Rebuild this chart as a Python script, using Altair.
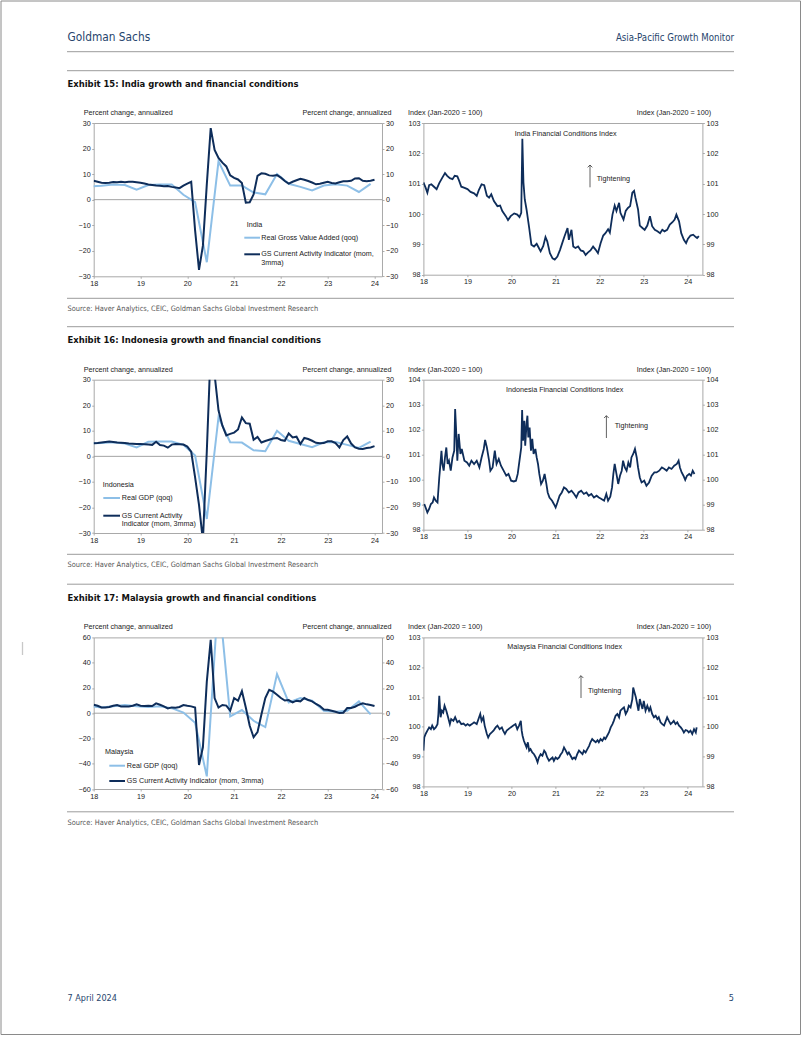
import altair as alt
import pandas as pd

# ------------------------------------------------------------------ data
YEARS = [2018, 2019, 2020, 2021, 2022, 2023, 2024]

# monthly, Jan-2018 .. Jan-2024 (GS Current Activity Indicator, mom 3mma)
india_cai = [7.4, 7.0, 6.6, 6.5, 6.6, 6.9, 6.8, 7.0, 6.8, 7.0, 7.0, 6.8,
             6.6, 6.3, 5.9, 5.7, 5.5, 5.4, 5.2, 5.3, 5.0, 4.8, 4.5, 5.5,
             6.3, 7.0, -12.0, -27.5, -18.0, 6.0, 28.0, 19.5, 16.3, 14.5, 13.0, 9.5,
             8.5, 7.9, 6.5, -1.2, -1.0, 2.0, 9.3, 10.3, 10.1, 9.5, 9.4, 9.6,
             8.6, 7.3, 6.3, 7.0, 7.6, 8.2, 7.8, 7.3, 6.7, 6.0, 6.2, 6.6,
             7.0, 6.5, 6.3, 6.8, 7.2, 7.2, 7.4, 8.3, 8.4, 7.4, 7.2, 7.4,
             7.8]
indo_cai = [5.1, 5.2, 5.4, 5.6, 5.8, 5.6, 5.4, 5.3, 5.2, 5.0, 4.9, 4.8,
            4.8, 4.7, 4.6, 4.5, 5.7, 4.4, 4.2, 3.4, 4.6, 4.8, 4.7, 4.6,
            3.8, 1.8, -8.2, -19.0, -33.0, 2.0, 42.0, 32.0, 18.0, 12.0, 8.2, 8.8,
            9.3, 10.5, 15.2, 13.0, 12.8, 6.5, 7.6, 5.4, 6.0, 6.5, 7.0, 7.2,
            6.4, 6.1, 9.0, 7.4, 7.7, 4.8, 7.2, 6.8, 6.1, 5.3, 5.1, 5.2,
            5.9, 5.9, 5.2, 3.5, 6.4, 7.8, 5.0, 3.5, 3.0, 2.9, 3.3, 3.5,
            4.0]
my_cai = [6.7, 5.9, 4.6, 4.6, 4.9, 5.9, 6.5, 5.4, 5.4, 5.4, 5.9, 7.0,
          5.9, 5.7, 5.9, 5.7, 7.8, 6.7, 5.4, 3.8, 4.6, 4.4, 4.9, 6.5,
          5.9, 5.4, 4.5, -41.0, -27.0, 25.0, 58.0, 12.0, 4.5, 6.5, 6.0, 2.0,
          12.0, 9.8, 17.5, 4.5, -10.0, -19.0, -15.0, -1.0, 12.0, 18.5, 17.0, 14.6,
          12.0, 10.0, 10.4, 8.6, 9.9, 9.4, 12.0, 10.4, 9.4, 7.3, 5.7, 3.0,
          2.8, 2.0, 1.2, 0.1, 0.4, 4.1, 4.1, 5.1, 6.7, 7.8, 7.0, 6.5,
          5.7]

# quarterly, Q4-2017 .. Q4-2023 (qoq annualized), plotted at quarter-end month
india_gva = [5.2, 5.4, 5.9, 5.7, 3.9, 5.7, 5.9, 5.9, 1.9, -1.0, -24.5, 15.0, 5.5,
             5.5, 2.8, 2.1, 10.0, 6.2, 5.0, 3.6, 5.5, 6.0, 5.5, 3.0, 6.2]
indo_gdp = [5.1, 5.2, 5.5, 5.0, 3.5, 5.7, 5.8, 5.8, 4.5, 0.3, -24.5, 15.3, 5.5,
            5.4, 2.4, 2.0, 10.0, 6.1, 4.8, 3.6, 5.5, 5.6, 4.5, 3.3, 5.8]
my_gdp = [5.5, 4.5, 5.5, 6.5, 5.5, 5.0, 5.5, 4.0, 0.5, -7.5, -50.0, 95.0, -2.5,
          2.5, -6.0, -11.0, 31.0, 8.5, 12.0, 10.0, 2.0, 1.2, 2.0, 9.3, -0.9]

month_t = [2018 + i / 12 for i in range(len(india_cai))]
quarter_t = [2017 + 11 / 12 + 0.25 * i for i in range(len(india_gva))]

# financial conditions indices (year, index)
india_fci = [
    (2018.00, 101.04), (2018.05, 100.87), (2018.09, 100.70), (2018.13, 100.95), (2018.18, 100.98),
    (2018.24, 100.90), (2018.30, 100.82), (2018.36, 101.02), (2018.43, 101.20), (2018.49, 101.35),
    (2018.54, 101.26), (2018.60, 101.18), (2018.66, 101.15), (2018.71, 101.26), (2018.77, 101.24),
    (2018.81, 101.10), (2018.86, 100.90), (2018.92, 100.87), (2019.00, 100.82), (2019.07, 100.73),
    (2019.15, 100.68), (2019.21, 100.60), (2019.26, 100.80), (2019.32, 100.98), (2019.38, 100.95),
    (2019.44, 100.60), (2019.49, 100.54), (2019.54, 100.65), (2019.60, 100.43), (2019.68, 100.26),
    (2019.74, 100.28), (2019.79, 100.10), (2019.87, 99.93), (2019.92, 99.80), (2019.98, 99.93),
    (2020.06, 100.02), (2020.13, 99.98), (2020.18, 99.90), (2020.22, 100.04), (2020.245, 102.48),
    (2020.27, 101.04), (2020.30, 100.48), (2020.34, 100.15), (2020.40, 99.54), (2020.45, 98.99),
    (2020.51, 98.93), (2020.57, 99.02), (2020.62, 98.88), (2020.66, 98.77), (2020.72, 98.95),
    (2020.77, 99.24), (2020.81, 99.10), (2020.87, 98.71), (2020.93, 98.54), (2020.98, 98.50),
    (2021.04, 98.60), (2021.10, 98.82), (2021.15, 99.04), (2021.20, 99.26), (2021.27, 99.54),
    (2021.30, 99.15), (2021.36, 99.48), (2021.40, 98.93), (2021.45, 98.88), (2021.51, 98.93),
    (2021.57, 98.80), (2021.63, 98.77), (2021.68, 98.65), (2021.73, 98.73), (2021.79, 98.80),
    (2021.85, 98.93), (2021.91, 98.82), (2021.96, 98.71), (2022.02, 99.04), (2022.08, 99.29),
    (2022.13, 99.37), (2022.19, 99.50), (2022.23, 99.39), (2022.29, 99.98), (2022.34, 100.28),
    (2022.38, 100.10), (2022.44, 100.37), (2022.47, 100.04), (2022.54, 99.82), (2022.59, 100.10),
    (2022.64, 100.20), (2022.69, 100.26), (2022.74, 100.70), (2022.78, 100.76), (2022.81, 100.54),
    (2022.87, 100.15), (2022.91, 99.62), (2022.97, 99.54), (2023.02, 99.48), (2023.08, 99.62),
    (2023.14, 99.93), (2023.19, 99.60), (2023.25, 99.48), (2023.31, 99.43), (2023.37, 99.37),
    (2023.42, 99.48), (2023.47, 99.43), (2023.53, 99.48), (2023.59, 99.65), (2023.65, 99.73),
    (2023.70, 99.82), (2023.74, 99.98), (2023.80, 99.76), (2023.85, 99.37), (2023.91, 99.15),
    (2023.96, 99.04), (2024.00, 99.18), (2024.06, 99.29), (2024.12, 99.32), (2024.18, 99.24),
    (2024.21, 99.21), (2024.25, 99.27),
]
indo_fci = [
    (2018.02, 99.03), (2018.05, 98.89), (2018.09, 98.69), (2018.13, 98.83), (2018.17, 99.03),
    (2018.21, 99.09), (2018.24, 99.29), (2018.28, 99.16), (2018.32, 99.09), (2018.36, 100.09),
    (2018.38, 100.49), (2018.41, 101.16), (2018.43, 100.63), (2018.46, 100.36), (2018.49, 100.89),
    (2018.52, 101.29), (2018.55, 100.63), (2018.58, 100.76), (2018.62, 100.36), (2018.66, 100.89),
    (2018.70, 101.16), (2018.72, 102.83), (2018.74, 102.09), (2018.77, 100.76), (2018.80, 101.83),
    (2018.84, 101.03), (2018.87, 101.23), (2018.93, 100.76), (2018.99, 100.69), (2019.04, 100.56),
    (2019.09, 100.76), (2019.15, 100.63), (2019.21, 100.76), (2019.27, 100.49), (2019.32, 100.89),
    (2019.37, 101.23), (2019.40, 101.59), (2019.44, 101.29), (2019.49, 100.76), (2019.52, 100.36),
    (2019.57, 100.49), (2019.62, 101.16), (2019.66, 100.63), (2019.71, 100.83), (2019.76, 100.56),
    (2019.82, 100.36), (2019.88, 100.16), (2019.93, 100.23), (2019.99, 99.96), (2020.05, 99.93),
    (2020.10, 99.96), (2020.14, 100.23), (2020.18, 100.76), (2020.22, 101.29), (2020.24, 102.79),
    (2020.26, 101.56), (2020.29, 102.36), (2020.31, 101.36), (2020.34, 102.23), (2020.36, 102.56),
    (2020.38, 101.69), (2020.41, 102.09), (2020.44, 101.16), (2020.47, 101.63), (2020.50, 101.03),
    (2020.54, 101.23), (2020.57, 100.89), (2020.60, 100.63), (2020.63, 100.23), (2020.67, 99.83),
    (2020.71, 99.96), (2020.75, 100.23), (2020.79, 99.83), (2020.82, 99.49), (2020.86, 99.29),
    (2020.92, 99.16), (2020.96, 99.03), (2021.00, 98.89), (2021.04, 99.09), (2021.09, 99.36),
    (2021.14, 99.49), (2021.19, 99.69), (2021.24, 99.63), (2021.30, 99.49), (2021.36, 99.56),
    (2021.42, 99.43), (2021.47, 99.29), (2021.52, 99.49), (2021.58, 99.56), (2021.64, 99.43),
    (2021.70, 99.49), (2021.75, 99.36), (2021.81, 99.43), (2021.87, 99.29), (2021.93, 99.36),
    (2021.98, 99.29), (2022.04, 99.23), (2022.10, 99.16), (2022.15, 99.43), (2022.19, 99.16),
    (2022.24, 99.32), (2022.28, 99.69), (2022.31, 100.23), (2022.34, 100.63), (2022.38, 100.23),
    (2022.42, 99.83), (2022.46, 100.16), (2022.50, 100.36), (2022.53, 100.76), (2022.57, 100.49),
    (2022.61, 100.36), (2022.65, 100.69), (2022.69, 100.49), (2022.72, 100.89), (2022.76, 101.03),
    (2022.80, 101.23), (2022.84, 100.89), (2022.87, 100.49), (2022.91, 100.09), (2022.95, 99.89),
    (2023.01, 99.96), (2023.06, 99.76), (2023.12, 99.89), (2023.18, 100.16), (2023.24, 100.29),
    (2023.29, 100.29), (2023.35, 100.36), (2023.41, 100.49), (2023.47, 100.43), (2023.52, 100.36),
    (2023.57, 100.49), (2023.63, 100.43), (2023.69, 100.56), (2023.75, 100.63), (2023.79, 100.76),
    (2023.82, 100.49), (2023.86, 100.29), (2023.90, 100.16), (2023.94, 99.99), (2023.98, 100.16),
    (2024.03, 100.23), (2024.07, 100.16), (2024.11, 100.36), (2024.15, 100.23),
]
my_fci = [
    (2018.00, 99.20), (2018.02, 99.64), (2018.05, 99.76), (2018.09, 99.87), (2018.13, 99.98),
    (2018.17, 99.92), (2018.20, 100.04), (2018.24, 99.92), (2018.28, 99.98), (2018.32, 100.09),
    (2018.34, 100.43), (2018.36, 101.04), (2018.39, 100.32), (2018.42, 100.54), (2018.45, 100.48),
    (2018.48, 100.71), (2018.52, 100.54), (2018.56, 100.32), (2018.60, 100.09), (2018.63, 100.26),
    (2018.68, 100.20), (2018.72, 100.32), (2018.77, 100.15), (2018.81, 100.20), (2018.86, 100.09),
    (2018.91, 100.11), (2018.96, 100.04), (2019.00, 100.09), (2019.05, 100.04), (2019.10, 100.09),
    (2019.15, 100.15), (2019.21, 100.09), (2019.25, 100.26), (2019.29, 100.43), (2019.32, 100.20),
    (2019.36, 100.32), (2019.39, 100.04), (2019.44, 99.76), (2019.47, 99.64), (2019.51, 99.76),
    (2019.55, 99.81), (2019.59, 99.87), (2019.64, 99.98), (2019.68, 100.04), (2019.73, 99.92),
    (2019.78, 99.98), (2019.81, 99.87), (2019.85, 99.76), (2019.89, 99.87), (2019.93, 99.92),
    (2019.98, 99.98), (2020.04, 100.04), (2020.09, 100.09), (2020.13, 99.92), (2020.17, 100.04),
    (2020.21, 100.20), (2020.23, 99.87), (2020.25, 99.70), (2020.28, 99.53), (2020.31, 99.42),
    (2020.34, 99.31), (2020.37, 99.48), (2020.40, 99.20), (2020.43, 99.25), (2020.47, 99.14),
    (2020.51, 99.08), (2020.55, 98.97), (2020.59, 98.81), (2020.62, 98.97), (2020.66, 99.08),
    (2020.70, 99.03), (2020.74, 99.20), (2020.77, 99.14), (2020.81, 98.97), (2020.85, 98.86),
    (2020.89, 98.92), (2020.93, 98.97), (2020.96, 98.86), (2021.00, 98.97), (2021.04, 98.92),
    (2021.08, 98.97), (2021.11, 99.06), (2021.15, 99.14), (2021.19, 99.31), (2021.23, 99.20),
    (2021.27, 99.08), (2021.30, 99.14), (2021.34, 99.03), (2021.38, 98.92), (2021.42, 98.97),
    (2021.45, 98.92), (2021.49, 99.08), (2021.53, 99.20), (2021.57, 99.14), (2021.61, 99.08),
    (2021.64, 99.20), (2021.68, 99.14), (2021.72, 99.25), (2021.76, 99.36), (2021.79, 99.48),
    (2021.83, 99.59), (2021.87, 99.53), (2021.91, 99.48), (2021.95, 99.55), (2021.98, 99.48),
    (2022.02, 99.59), (2022.06, 99.53), (2022.10, 99.64), (2022.13, 99.59), (2022.17, 99.70),
    (2022.21, 99.81), (2022.25, 99.98), (2022.29, 100.09), (2022.32, 100.20), (2022.36, 100.37),
    (2022.40, 100.43), (2022.44, 100.32), (2022.47, 100.54), (2022.51, 100.60), (2022.55, 100.65),
    (2022.59, 100.43), (2022.63, 100.54), (2022.66, 100.71), (2022.70, 100.65), (2022.74, 100.93),
    (2022.76, 101.32), (2022.79, 101.15), (2022.82, 100.99), (2022.85, 100.76), (2022.88, 100.54),
    (2022.91, 100.93), (2022.94, 100.76), (2022.97, 100.60), (2023.00, 100.87), (2023.04, 100.54),
    (2023.08, 100.71), (2023.12, 100.54), (2023.15, 100.65), (2023.19, 100.43), (2023.23, 100.32),
    (2023.27, 100.37), (2023.31, 100.26), (2023.34, 100.32), (2023.38, 100.15), (2023.42, 100.09),
    (2023.46, 100.04), (2023.50, 100.20), (2023.53, 100.32), (2023.57, 100.20), (2023.61, 100.09),
    (2023.65, 100.15), (2023.68, 100.20), (2023.72, 100.09), (2023.76, 100.15), (2023.80, 100.04),
    (2023.84, 99.98), (2023.87, 99.92), (2023.91, 99.81), (2023.95, 99.89), (2023.99, 99.87),
    (2024.02, 99.81), (2024.06, 99.87), (2024.10, 99.76), (2024.14, 99.92), (2024.18, 99.81),
    (2024.20, 99.98),
]

EXHIBITS = ["Exhibit 15: India growth and financial conditions",
            "Exhibit 16: Indonesia growth and financial conditions",
            "Exhibit 17: Malaysia growth and financial conditions"]
SOURCE = "Source: Haver Analytics, CEIC, Goldman Sachs Global Investment Research"

# ------------------------------------------------------------------ styles
NAVY = "#0e2d5a"
LIGHT = "#8dbfe7"
FRAME = "#a9a9a9"
ZERO = "#9a9a9a"
RULE = "#9c9c9c"
INK = "#1a1a1a"
BRAND = "#27456d"
FONT = "Liberation Sans, Arial, Helvetica, sans-serif"
NARROW = "DejaVu Sans Condensed, Liberation Sans Narrow, Arial Narrow, sans-serif"
FS = 7.2

one = pd.DataFrame({"k": [0]})
Y0 = 123  # page y of the top of the first row of panels


def txt(s, x, y, size=FS, color=INK, font=FONT, weight="normal",
        align="left", baseline="middle"):
    return alt.Chart(one).mark_text(
        text=s, font=font, fontSize=size, fontWeight=weight, color=color,
        align=align, baseline=baseline
    ).encode(x=alt.value(x), y=alt.value(y))


def hline(x1, x2, y, color, w=1.0):
    return alt.Chart(one).mark_rule(color=color, strokeWidth=w).encode(
        x=alt.value(x1), x2=alt.value(x2), y=alt.value(y))


def x_axis():
    return alt.Axis(values=YEARS, labelExpr="substring(toString(datum.value), 2, 4)",
                    title=None, labelFlush=False, tickSize=2, labelPadding=1)


def y_axes(vals, title, lx, rx):
    left = alt.Axis(values=vals, orient="left", title=title, titleAngle=0,
                    titleAlign="left", titleBaseline="middle", titleX=lx, titleY=-10.5,
                    tickSize=2, labelPadding=1.5)
    right = alt.Axis(values=vals, orient="right", title=title, titleAngle=0,
                     titleAlign="right", titleBaseline="middle", titleX=rx, titleY=-10.5,
                     tickSize=2, labelPadding=1.5)
    return left, right


FRAME_VIEW = alt.ViewBackground(stroke=FRAME, strokeOpacity=1, strokeWidth=1)
LEFT_W, RIGHT_W = 288.3, 279


def growth_panel(cai, gdp, ydom, ystep, h, country, gdp_label, cai_lines, leg):
    xs = alt.Scale(domain=[2018, 2024.16], nice=False, zero=False)
    ys = alt.Scale(domain=ydom, nice=False, zero=False)
    vals = list(range(ydom[0], ydom[1] + 1, ystep))
    yl, yr = y_axes(vals, "Percent change, annualized", -10.5, 9)
    df_g = pd.DataFrame({"t": quarter_t, "v": gdp})
    df_c = pd.DataFrame({"t": month_t, "v": cai})
    zero = alt.Chart(one).mark_rule(color=ZERO, strokeWidth=0.9).encode(
        y=alt.YDatum(0, scale=ys, axis=yr))
    g = alt.Chart(df_g).mark_line(color=LIGHT, strokeWidth=2, clip=True).encode(
        x=alt.X("t:Q", scale=xs, axis=x_axis()),
        y=alt.Y("v:Q", scale=ys, axis=yl))
    c = alt.Chart(df_c).mark_line(color=NAVY, strokeWidth=2, clip=True).encode(
        x=alt.X("t:Q", scale=xs, axis=x_axis()),
        y=alt.Y("v:Q", scale=ys, axis=None))
    tx, ty, sx1, sx2, sy1, sy2, lx, dy = leg
    layers = [zero, g, c,
              txt(country, tx, ty),
              hline(sx1, sx2, sy1, LIGHT, 2), txt(gdp_label, lx, sy1),
              hline(sx1, sx2, sy2, NAVY, 2)]
    for i, line in enumerate(cai_lines):
        layers.append(txt(line, lx, sy2 + i * dy))
    return alt.layer(*layers).resolve_scale(y="independent").properties(
        width=LEFT_W, height=h, view=FRAME_VIEW)


def fci_panel(data, ydom, h, title, ann):
    t, v = zip(*data)
    df = pd.DataFrame({"t": t, "v": v})
    xs = alt.Scale(domain=[2018, 2024.33], nice=False, zero=False)
    ys = alt.Scale(domain=ydom, nice=False, zero=False)
    vals = list(range(ydom[0], ydom[1] + 1))
    yl, yr = y_axes(vals, "Index (Jan-2020 = 100)", -16, 8.3)
    line = alt.Chart(df).mark_line(color=NAVY, strokeWidth=1.8, clip=True).encode(
        x=alt.X("t:Q", scale=xs, axis=x_axis()),
        y=alt.Y("v:Q", scale=ys, axis=yl))
    ghost = alt.Chart(one).mark_rule(opacity=0).encode(
        y=alt.YDatum(ydom[0], scale=ys, axis=yr))
    cx, cy, ax, ay1, ay2, tx, ty = ann
    shaft = alt.Chart(one).mark_rule(color="#3a3a3a", strokeWidth=0.8).encode(
        x=alt.value(ax), y=alt.value(ay1), y2=alt.value(ay2))
    head = alt.Chart(one).mark_point(shape="M-1,1L0,0L1,1", filled=False, size=22,
                                     color="#3a3a3a", strokeWidth=0.8, opacity=1).encode(
        x=alt.value(ax), y=alt.value(ay1))
    layers = [ghost, line, txt(title, cx, cy, align="center"), shaft, head,
              txt("Tightening", tx, ty)]
    return alt.layer(*layers).resolve_scale(y="independent").properties(
        width=RIGHT_W, height=h, view=FRAME_VIEW)


# ------------------------------------------------------------------ page decoration
decor = [
    alt.Chart(one).mark_rect(fillOpacity=0, stroke="#8a8a8a", strokeWidth=1).encode(
        x=alt.value(1), x2=alt.value(800.5), y=alt.value(1 - Y0), y2=alt.value(1034.5 - Y0)),
    txt("Goldman Sachs", 67.5, 40.7 - Y0, 11.8, BRAND, NARROW, baseline="alphabetic"),
    txt("Asia-Pacific Growth Monitor", 734, 40.7 - Y0, 9.6, BRAND, NARROW,
        align="right", baseline="alphabetic"),
    hline(67, 734, 51.7 - Y0, RULE),
]
for off, title in zip([0, 256, 513.5], EXHIBITS):
    decor += [
        hline(67, 734, 70.7 + off - Y0, RULE),
        txt(title, 67.5, 87.3 + off - Y0, 9.4, "#111111", NARROW, "bold", baseline="alphabetic"),
        hline(67, 734, 298.3 + off - Y0, RULE),
        txt(SOURCE, 67.5, 311.3 + off - Y0, 7.4, "#555555", NARROW, baseline="alphabetic"),
    ]
decor += [
    txt("7 April 2024", 67.5, 1001 - Y0, 9, BRAND, NARROW, baseline="alphabetic"),
    txt("5", 734, 1001 - Y0, 9, BRAND, NARROW, align="right", baseline="alphabetic"),
    alt.Chart(one).mark_rule(color="#c8c8c8", strokeWidth=1.3).encode(
        x=alt.value(22.5), y=alt.value(642 - Y0), y2=alt.value(655 - Y0)),
]
decor_chart = alt.layer(*decor).properties(width=53, height=153.3)


def spacer(h):
    return alt.Chart(one).mark_text(text="").encode(
        x=alt.value(0), y=alt.value(0)).properties(width=53, height=h)


india_left = growth_panel(
    india_cai, india_gva, [-30, 30], 10, 153.3, "India", "Real Gross Value Added (qoq)",
    ["GS Current Activity Indicator (mom,", "3mma)"],
    (153, 102, 150.6, 166.3, 114.7, 131.3, 167.5, 9))
indo_left = growth_panel(
    indo_cai, indo_gdp, [-30, 30], 10, 153.3, "Indonesia", "Real GDP (qoq)",
    ["GS Current Activity", "Indicator (mom, 3mma)"],
    (9, 105, 9.6, 26.3, 118.3, 136, 28, 8.3))
my_left = growth_panel(
    my_cai, my_gdp, [-60, 60], 20, 151.6, "Malaysia", "Real GDP (qoq)",
    ["GS Current Activity Indicator (mom, 3mma)"],
    (11.3, 115, 15.6, 31.3, 128.3, 143.6, 33, 8.3))

india_right = fci_panel(india_fci, [98, 103], 151.7, "India Financial Conditions Index",
                        (142.3, 11.3, 166.6, 42, 64.3, 173.3, 56))
indo_right = fci_panel(indo_fci, [98, 104], 150, "Indonesia Financial Conditions Index",
                       (141.3, 10.3, 183, 36, 58.3, 191.3, 46.7))
my_right = fci_panel(my_fci, [98, 103], 149, "Malaysia Financial Conditions Index",
                     (141.3, 10, 157.6, 38.3, 60.6, 164.6, 53.6))

chart = alt.concat(
    decor_chart, india_left, india_right,
    spacer(155), indo_left, indo_right,
    spacer(10), my_left, my_right,
    columns=3, spacing={"row": 102.7, "column": 40.7}, bounds="flush",
).properties(
    padding=0, background="white"
).configure_view(
    strokeOpacity=0
).configure_axis(
    labelFont=FONT, labelFontSize=FS, labelColor=INK,
    titleFont=FONT, titleFontSize=FS, titleFontWeight="normal", titleColor=INK,
    tickColor="#9a9a9a", tickWidth=0.8, domain=False, grid=False,
)

chart.save("out.html", embed_options={"renderer": "svg", "actions": False})
